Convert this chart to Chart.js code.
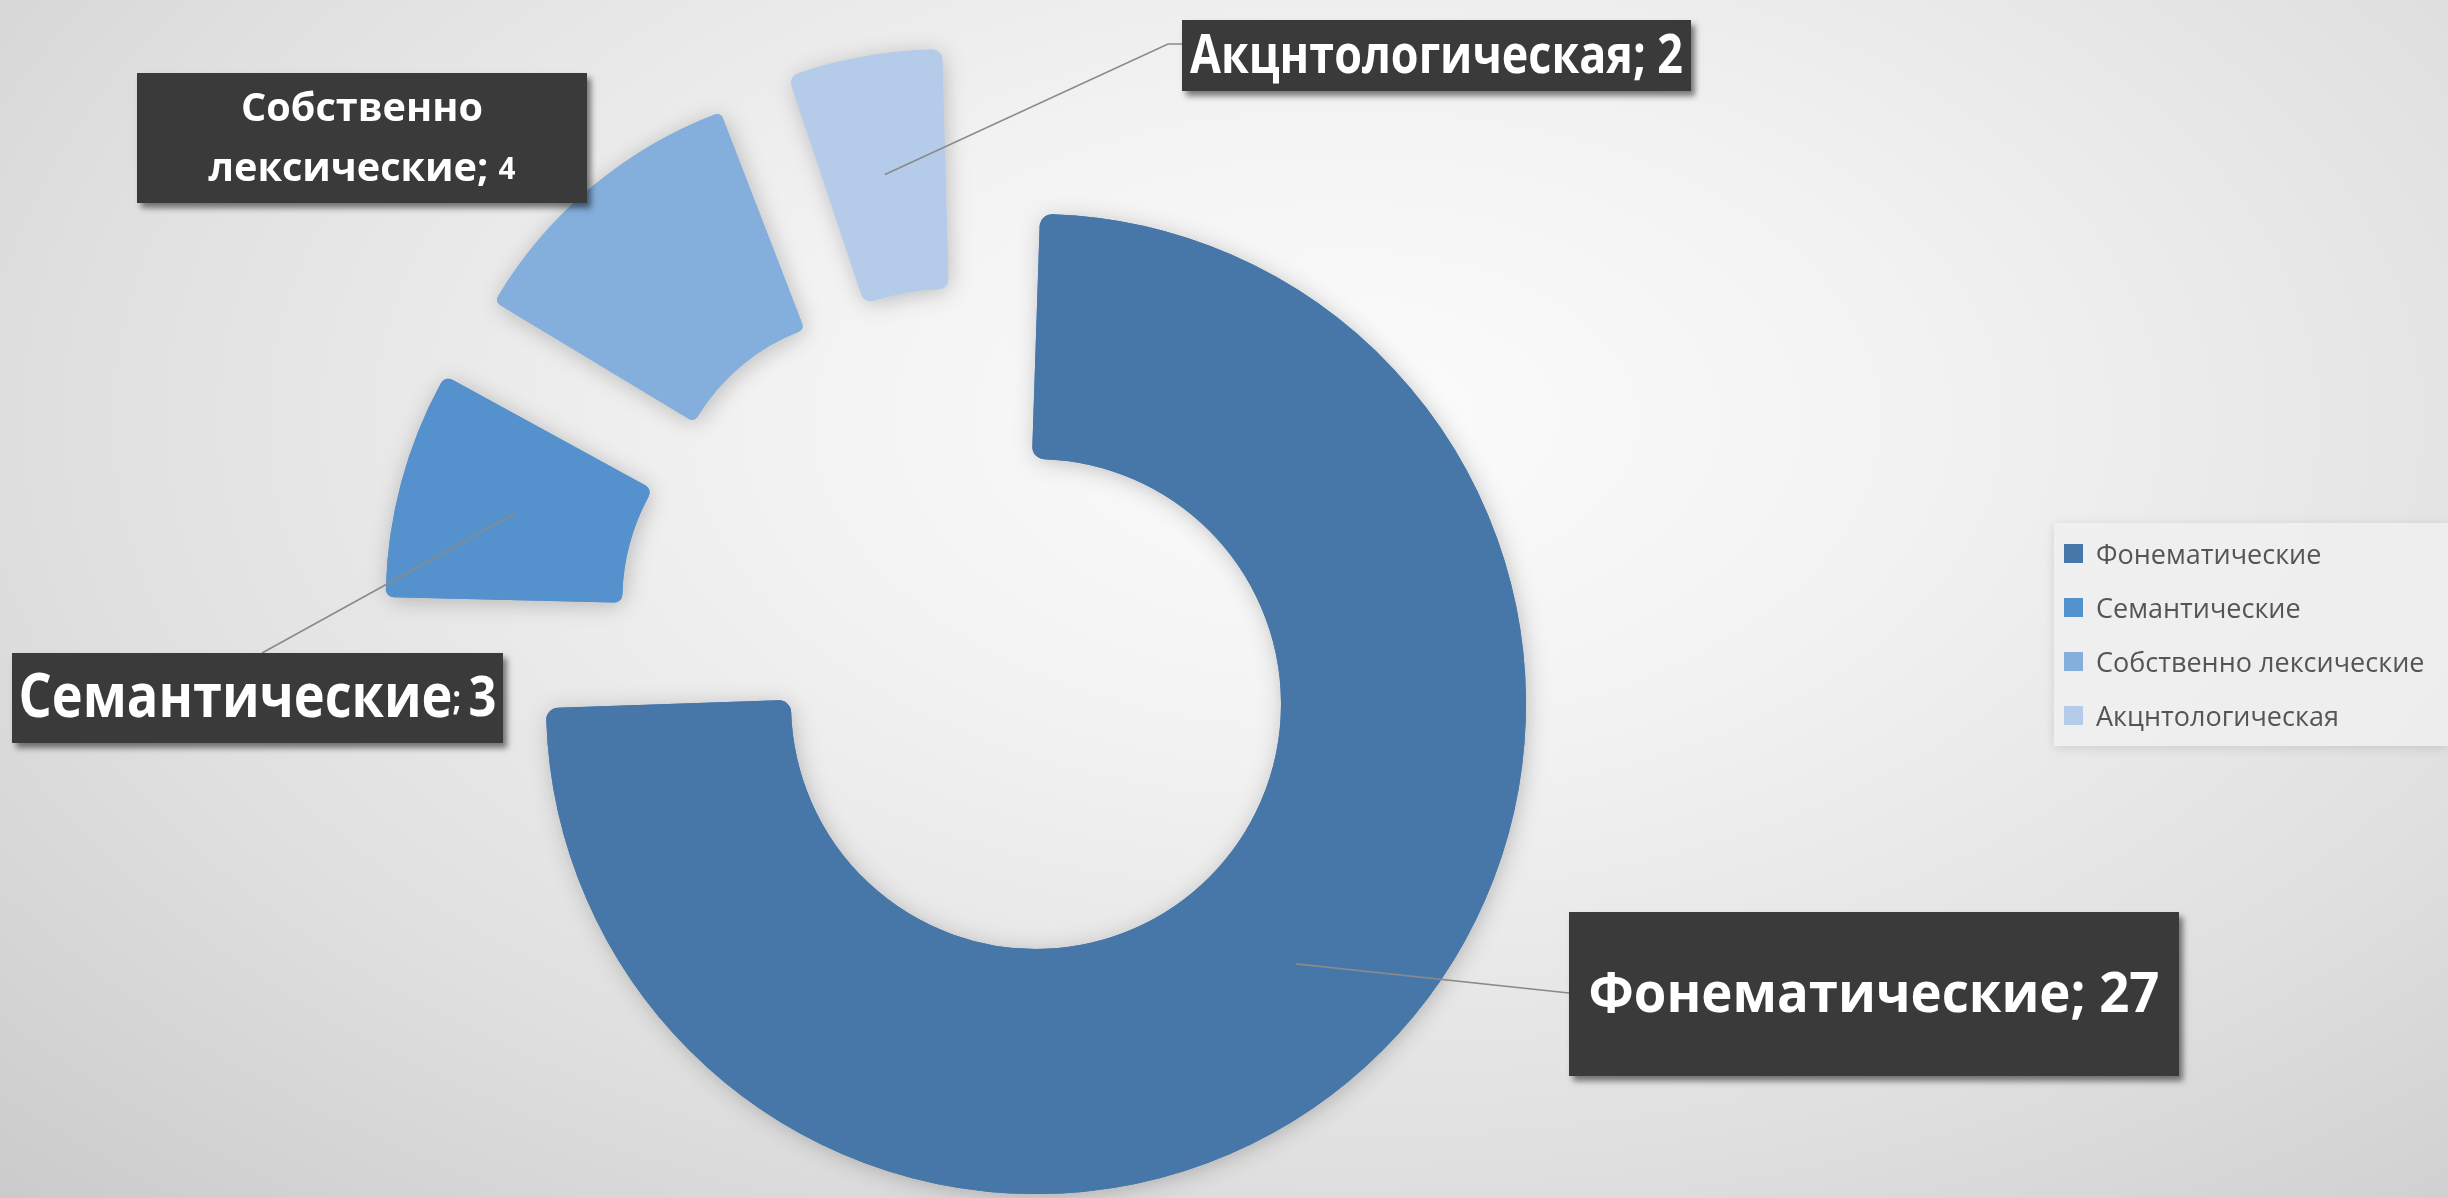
<!DOCTYPE html>
<html>
<head>
<meta charset="utf-8">
<script src="https://cdn.jsdelivr.net/npm/chart.js"></script>
<style>
  html, body { margin: 0; padding: 0; }
  body {
    width: 2448px; height: 1198px; overflow: hidden; position: relative;
    background: radial-gradient(ellipse 80% 95% at 55% 35%, #fcfcfc 0%, #f2f2f2 30%, #e0e0e0 65%, #c9c9c9 100%);
    font-family: 'Open Sans', 'Noto Sans', sans-serif;
  }
  #wrap { position: absolute; left: 0; top: 0; width: 2448px; height: 1198px; }
  #legend {
    position: absolute; left: 2054px; top: 523px; width: 394px; height: 223px;
    background: rgba(240, 240, 240, 0.8); box-shadow: 0 2px 10px rgba(0, 0, 0, 0.12);
    box-sizing: border-box; padding: 0 0 0 10px;
  }
  #legend .item { display: flex; align-items: center; height: 54px; font-size: 27px; color: #555555; white-space: nowrap; }
  #legend .sw { width: 19px; height: 19px; margin-right: 13px; flex: none; }
</style>
</head>
<body>
<div id="wrap"><canvas id="donut"></canvas></div>
<div id="legend"></div>
<script>
const categories = ['Фонематические', 'Семантические', 'Собственно лексические', 'Акцнтологическая'];
const values = [27, 3, 4, 2];
const colors = ['#4677A8', '#5591CC', '#84AEDC', '#B4CCE9'];

// ring geometry (px) and Excel-style point explosion
const outerR = 490, innerR = 245, explode = 99;

// callout boxes: position, fonts, leader-line end points
const callouts = [
  { x: 1569, y: 912, w: 610, h: 164, tw: 571, size: 56, sepSize: 56, valSize: 56, line: [[1569, 993]] },
  { x: 12, y: 653, w: 491, h: 90, tw: 478, size: 60, sepSize: 34, valSize: 56, line: [[262, 653]] },
  { x: 137, y: 73, w: 450, h: 130, tw: 307, size: 40, sepSize: 40, valSize: 30, wrap: true, gap: 60, line: null },
  { x: 1182, y: 20, w: 509, h: 71, tw: 493, size: 54, sepSize: 54, valSize: 54, line: [[1168, 44], [1182, 44]] }
];

const total = values.reduce((a, b) => a + b, 0);

// Chart.js moves an arc by offset/4 and widens it by offset/4*fix (and trims its ends a bit);
// pick offsets so each slice lands ~explode px out, and a same-colour border to win back the trimmed ends
const fixes = values.map(v => 1 - Math.sin(Math.min(Math.PI, v / total * 2 * Math.PI)));
const taus = fixes.map(f => 2 * explode / (1 + f));
const midR = (outerR + innerR) / 2;
const trimAt = (i, ro) => taus[i] * fixes[i] / (2 * Math.PI * ro);
const halfBig = trimAt(0, outerR - 12) * midR;
const R0 = outerR - explode - halfBig, r0 = innerR - explode + halfBig;
const arcOffsets = taus.map(t => 4 * t);
const arcBorders = taus.map((t, i) => {
  const ro = R0 + t * fixes[i];
  const rm = (R0 + r0) / 2 + t * fixes[i];
  return 2 * trimAt(i, ro) * rm;
});

// soft shadow: draw the slices once with a shadow underneath, chart.js then paints them clean on top
const shadowPlugin = {
  id: 'arcShadow',
  beforeDatasetsDraw(chart) {
    const ctx = chart.ctx;
    ctx.save();
    ctx.shadowColor = 'rgba(0,0,0,0.18)';
    ctx.shadowBlur = 24;
    ctx.shadowOffsetX = 2;
    ctx.shadowOffsetY = 3;
    chart.getDatasetMeta(0).data.forEach(arc => arc.draw(ctx));
    ctx.restore();
  }
};

const fontOf = s => 'bold ' + s + 'px "Open Sans", "Noto Sans", sans-serif';

function partsWidth(ctx, parts) {
  let w = 0;
  parts.forEach(p => { ctx.font = fontOf(p.s); p.w = ctx.measureText(p.t).width; w += p.w; });
  return w;
}

function drawParts(ctx, parts, cx, cy, sx) {
  const w = partsWidth(ctx, parts);
  ctx.save();
  ctx.translate(cx, cy);
  ctx.scale(sx, 1);
  let x = -w / 2;
  parts.forEach(p => {
    ctx.font = fontOf(p.s);
    ctx.fillText(p.t, x, 0);
    x += p.w;
  });
  ctx.restore();
}

const calloutPlugin = {
  id: 'callouts',
  afterDatasetsDraw(chart) {
    const ctx = chart.ctx;
    const meta = chart.getDatasetMeta(0);
    meta.data.forEach((arc, i) => {
      const L = callouts[i];
      const p = arc.getProps(['x', 'y', 'startAngle', 'endAngle', 'innerRadius', 'outerRadius', 'circumference']);
      const o = arc.options.offset / 4;
      const fix = 1 - Math.sin(Math.min(Math.PI, p.circumference));
      const mid = (p.startAngle + p.endAngle) / 2;
      const r = (p.innerRadius + p.outerRadius) / 2 + o * fix;
      const ax = p.x + Math.cos(mid) * (o + r);
      const ay = p.y + Math.sin(mid) * (o + r);

      if (L.line) {
        ctx.save();
        ctx.strokeStyle = '#8a8a8a';
        ctx.lineWidth = 1.6;
        ctx.beginPath();
        ctx.moveTo(ax, ay);
        L.line.forEach(pt => ctx.lineTo(pt[0], pt[1]));
        ctx.stroke();
        ctx.restore();
      }

      ctx.save();
      ctx.shadowColor = 'rgba(0,0,0,0.5)';
      ctx.shadowBlur = 6;
      ctx.shadowOffsetX = 4;
      ctx.shadowOffsetY = 5;
      ctx.fillStyle = '#3a3a3a';
      ctx.fillRect(L.x, L.y, L.w, L.h);
      ctx.restore();

      const name = chart.data.labels[i];
      const val = String(chart.data.datasets[0].data[i]);
      let lines;
      if (L.wrap) {
        const cut = name.indexOf(' ');
        lines = [
          [{ t: name.slice(0, cut), s: L.size }],
          [{ t: name.slice(cut + 1), s: L.size }, { t: '; ', s: L.sepSize }, { t: val, s: L.valSize }]
        ];
      } else {
        lines = [[{ t: name, s: L.size }, { t: '; ', s: L.sepSize }, { t: val, s: L.valSize }]];
      }
      const widest = Math.max(...lines.map(ln => partsWidth(ctx, ln)));
      const sx = Math.min(1, L.tw / widest);
      ctx.save();
      ctx.fillStyle = '#ffffff';
      ctx.textBaseline = 'middle';
      ctx.textAlign = 'left';
      const cx = L.x + L.w / 2;
      const gap = L.gap || 0;
      const cy0 = L.y + L.h / 2 - gap * (lines.length - 1) / 2;
      lines.forEach((ln, k) => drawParts(ctx, ln, cx, cy0 + k * gap + 2, sx));
      ctx.restore();
    });
  }
};

new Chart(document.getElementById('donut'), {
  type: 'doughnut',
  data: {
    labels: categories,
    datasets: [{
      data: values,
      backgroundColor: colors,
      borderColor: colors,
      borderWidth: arcBorders,
      borderJoinStyle: 'round',
      offset: arcOffsets,
      hoverOffset: 0,
      clip: false
    }]
  },
  options: {
    responsive: true,
    maintainAspectRatio: false,
    animation: false,
    events: [],
    radius: R0,
    cutout: (r0 / R0 * 100) + '%',
    layout: { padding: { left: 0, right: 516, top: 70, bottom: 0 } },
    plugins: { legend: { display: false }, tooltip: { enabled: false } }
  },
  plugins: [shadowPlugin, calloutPlugin]
});

const legendEl = document.getElementById('legend');
categories.forEach((c, i) => {
  const row = document.createElement('div');
  row.className = 'item';
  if (i === 0) row.style.marginTop = '3px';
  row.innerHTML = '<span class="sw" style="background:' + colors[i] + '"></span>' + c;
  legendEl.appendChild(row);
});
</script>
</body>
</html>
